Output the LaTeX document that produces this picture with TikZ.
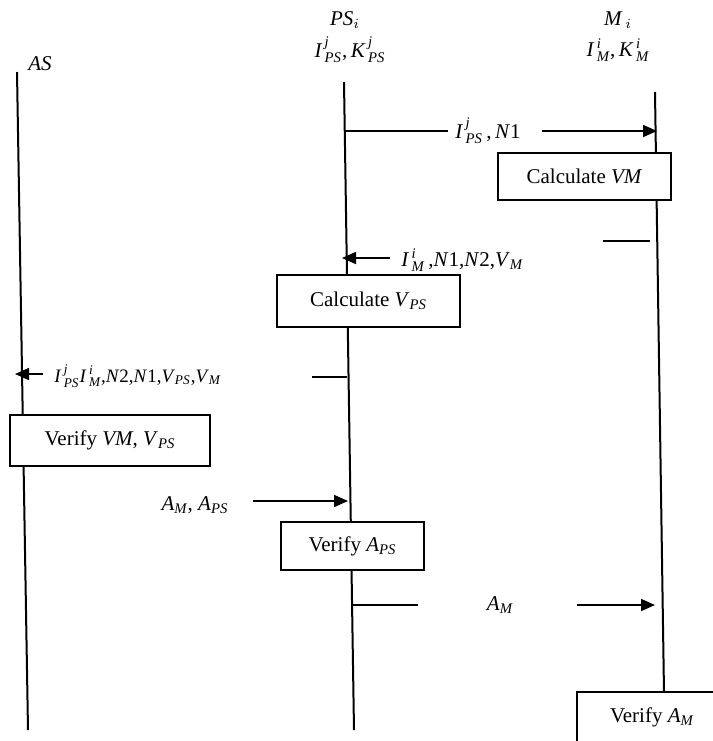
\documentclass[tikz,border=0pt]{standalone}
\usepackage{amsmath}
\usepackage{fontspec}
\setmainfont{Liberation Serif}
\usetikzlibrary{arrows.meta}
\newcommand{\mi}[1]{\textit{#1}}
\newcommand{\ssc}[3]{\mi{#1}\kern1.2pt$^{\mi{#2}}_{\mi{#3}}$}

\begin{document}
\begin{tikzpicture}[x=0.5pt, y=-0.5pt,
  proc/.style={draw, line width=0.8pt, fill=white, inner sep=0pt, font=\fontsize{10.5}{12}\selectfont},
  life/.style={line width=1pt},
  msg/.style={-{Triangle[length=7pt, width=6pt]}, line width=0.8pt},
  tail/.style={line width=0.8pt},
  lbl/.style={inner sep=0pt, font=\fontsize{10.5}{12}\selectfont},
]
\useasboundingbox (0,0) rectangle (713,741);
\clip (0,0) rectangle (713,741);

% lifelines
\coordinate (as0) at (17,72);  \coordinate (as1) at (28,730);
\coordinate (ps0) at (344,82); \coordinate (ps1) at (354,730);
\coordinate (m0) at (655,92);  \coordinate (m1) at (664,692);
\draw[life] (as0) -- (as1);
\draw[life] (ps0) -- (ps1);
\draw[life] (m0) -- (m1);

% headers
\node[lbl] (hAS) at (40,64) {\mi{AS}};
\node[lbl] (hPS) at (345,20) {\mi{PS}$_{i}$};
\node[lbl] (kPS) at (350,50) {\ssc{I}{j}{PS},\,\ssc{K}{j}{PS}};
\node[lbl] (hM) at (618,20) {\mi{M}$_{\,i}$};
\node[lbl] (kM) at (618,50) {\ssc{I}{i}{M},\,\ssc{K}{i}{M}};

% PS -> M
\coordinate (a1s) at (345,131); \coordinate (a1e) at (448,131);
\coordinate (a1t) at (542,131); \coordinate (a1h) at (657,131);
\node[lbl] (n1) at (488,131) {\ssc{I}{j}{PS}\,,\,\mi{N}1};
\draw[tail] (a1s) -- (a1e);
\draw[msg] (a1t) -- (a1h);

\node[proc, minimum width=86.5pt, minimum height=23.5pt] (cVM) at (584.5,176.5) {Calculate \mi{VM}};

% M -> PS
\coordinate (a2s) at (603,241); \coordinate (a2e) at (650,241);
\coordinate (a2t) at (390,258); \coordinate (a2h) at (342,258);
\node[lbl, anchor=west] (n2) at (401,260) {\ssc{I}{i}{M}\,,\mi{N}1,\mi{N}2,\mi{V}$_{\mi{M}}$};
\draw[tail] (a2s) -- (a2e);
\draw[msg] (a2t) -- (a2h);

\node[proc, minimum width=91.5pt, minimum height=26pt] (cVPS) at (368.5,301) {Calculate \mi{V}$_{\mi{PS}}$};

% PS -> AS
\coordinate (a3s) at (312,377); \coordinate (a3e) at (347,377);
\coordinate (a3t) at (43,374);  \coordinate (a3h) at (15,374);
\node[lbl, anchor=west, font=\fontsize{9.5}{11}\selectfont] (n3) at (54,376) {\ssc{I}{j}{PS}\ssc{I}{i}{M},\mi{N}2,\mi{N}1,\mi{V}$_{\mi{PS}}$,\mi{V}$_{\mi{M}}$};
\draw[tail] (a3s) -- (a3e);
\draw[msg] (a3t) -- (a3h);

\node[proc, minimum width=100pt, minimum height=25.5pt] (vVM) at (110,440.5) {Verify \mi{VM}, \mi{V}$_{\mi{PS}}$};

% AS -> PS
\coordinate (a4t) at (253,501); \coordinate (a4h) at (348,501);
\node[lbl] (n4) at (195,505) {\mi{A}$_{\mi{M}}$, \mi{A}$_{\mi{PS}}$};
\draw[msg] (a4t) -- (a4h);

\node[proc, minimum width=71.5pt, minimum height=24pt] (vAPS) at (352.5,546) {Verify \mi{A}$_{\mi{PS}}$};

% PS -> M
\coordinate (a5s) at (353,605); \coordinate (a5e) at (418,605);
\coordinate (a5t) at (577,605); \coordinate (a5h) at (655,605);
\node[lbl] (n5) at (500,605) {\mi{A}$_{\mi{M}}$};
\draw[tail] (a5s) -- (a5e);
\draw[msg] (a5t) -- (a5h);

\node[proc, minimum width=75pt, minimum height=25pt] (vAM) at (652,717) {Verify \mi{A}$_{\mi{M}}$};

\end{tikzpicture}
\end{document}
